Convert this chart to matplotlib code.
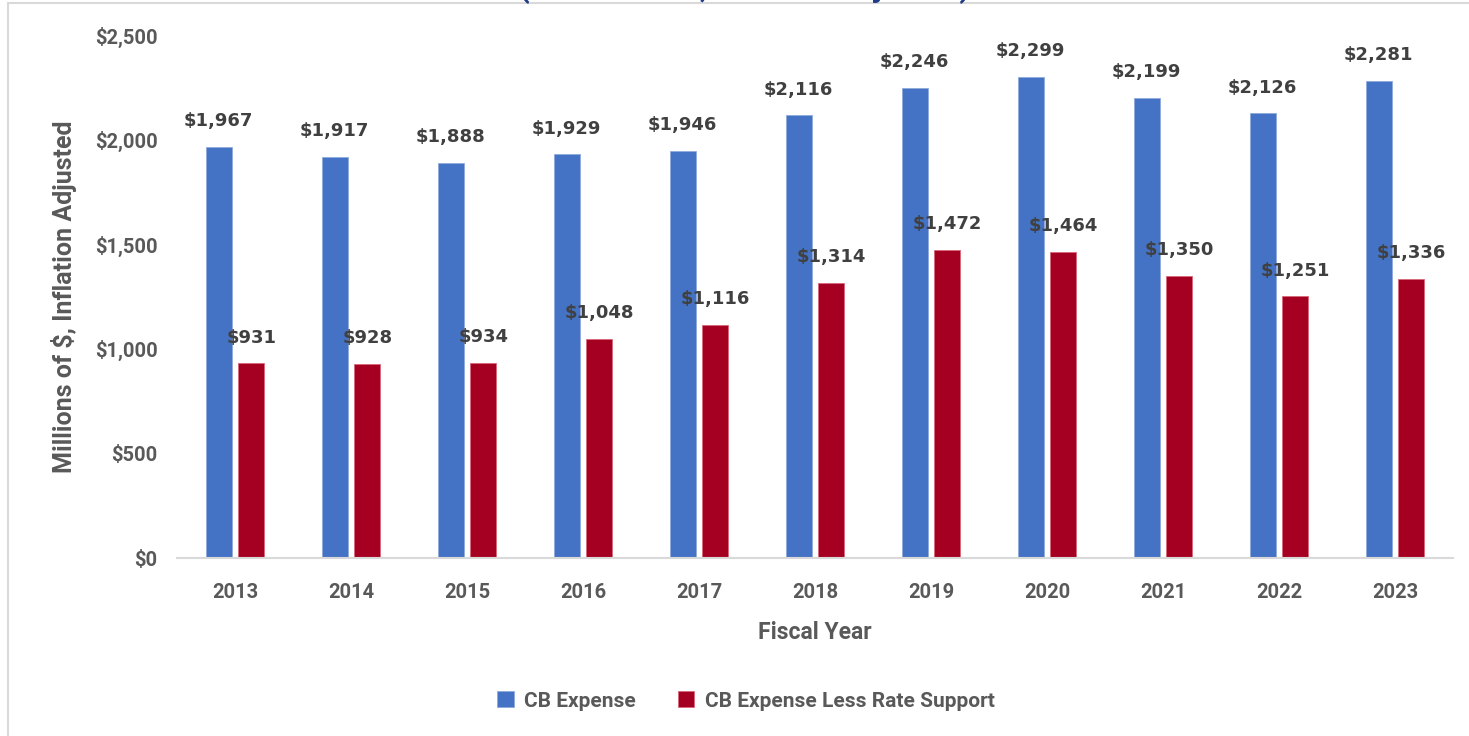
import matplotlib
matplotlib.use("Agg")
import matplotlib.pyplot as plt
import numpy as np
from matplotlib.lines import Line2D

years = ["2013", "2014", "2015", "2016", "2017", "2018", "2019", "2020", "2021", "2022", "2023"]
cb_expense = [1967, 1917, 1888, 1929, 1946, 2116, 2246, 2299, 2199, 2126, 2281]
cb_less_rate = [931, 928, 934, 1048, 1116, 1314, 1472, 1464, 1350, 1251, 1336]
series_names = ["CB Expense", "CB Expense Less Rate Support"]
y_ticks = [0, 500, 1000, 1500, 2000, 2500]

BLUE = "#4472C4"
RED = "#A50021"
GREY = "#595959"
LABEL = "#404040"
TICKFONT = "Roboto"

fig = plt.figure(figsize=(14.69, 7.36), dpi=100)
ax = fig.add_axes([177/1469, (736-558)/736, (1453-177)/1469, (558-35)/736])

x = np.arange(len(years))
w = 0.224
off = 0.142
b1 = ax.bar(x - off, cb_expense, w, color=BLUE, edgecolor="#8FAADC", linewidth=0.6, label=series_names[0])
b2 = ax.bar(x + off, cb_less_rate, w, color=RED, edgecolor="#D6687A", linewidth=0.6, label=series_names[1])

for bars, vals in ((b1, cb_expense), (b2, cb_less_rate)):
    for r, v in zip(bars, vals):
        ax.annotate(f"${v:,}", (r.get_x() + r.get_width()/2, v), xytext=(0, 12),
                    textcoords="offset points", ha="center", va="bottom",
                    fontsize=13, fontweight="bold", color=LABEL, family="DejaVu Sans")

ax.set_xlim(-0.5, len(years) - 0.5)
ax.set_ylim(0, 2500)
ax.set_yticks(y_ticks)
ax.set_yticklabels([f"${t:,}" for t in y_ticks], fontsize=14.5, fontweight="bold", color=GREY, family=TICKFONT)
ax.set_xticks(x)
ax.set_xticklabels(years, fontsize=14.5, fontweight="bold", color=GREY, family=TICKFONT)
ax.tick_params(axis="both", length=0)
ax.tick_params(axis="y", pad=14)
ax.tick_params(axis="x", pad=18)
for s in ("top", "right", "left"):
    ax.spines[s].set_visible(False)
ax.spines["bottom"].set_color("#D9D9D9")
ax.spines["bottom"].set_linewidth(1.5)

ax.set_ylabel("Millions of $, Inflation Adjusted", fontsize=18, fontweight="bold", color=GREY, family=TICKFONT)
ax.yaxis.set_label_coords(-0.078, 0.5)
ax.set_xlabel("Fiscal Year", fontsize=16.5, fontweight="bold", color=GREY, family=TICKFONT, labelpad=14)

leg = fig.legend(handles=[b1, b2], labels=series_names, loc="center", bbox_to_anchor=(746/1469, 1 - 701/736),
                 ncol=2, frameon=False, handlelength=0.8, handleheight=0.8,
                 handletextpad=0.5, columnspacing=2.0,
                 prop={"family": TICKFONT, "weight": "bold", "size": 15})
for t in leg.get_texts():
    t.set_color(GREY)

# cut-off title at top
fig.text(745/1469, 1 + 3/736, "(Millions of $, Inflation Adjusted)", ha="center", va="baseline",
         fontsize=22, fontweight="bold", color="#1F3C88", family=TICKFONT)

# outer chart border
fig.add_artist(Line2D([8/1469, 8/1469], [0, 1 - 3/736], transform=fig.transFigure, color="#D9D9D9", lw=1.5))
fig.add_artist(Line2D([8/1469, 1], [1 - 3/736, 1 - 3/736], transform=fig.transFigure, color="#D9D9D9", lw=1.5))

fig.savefig("out.png", dpi=100)
